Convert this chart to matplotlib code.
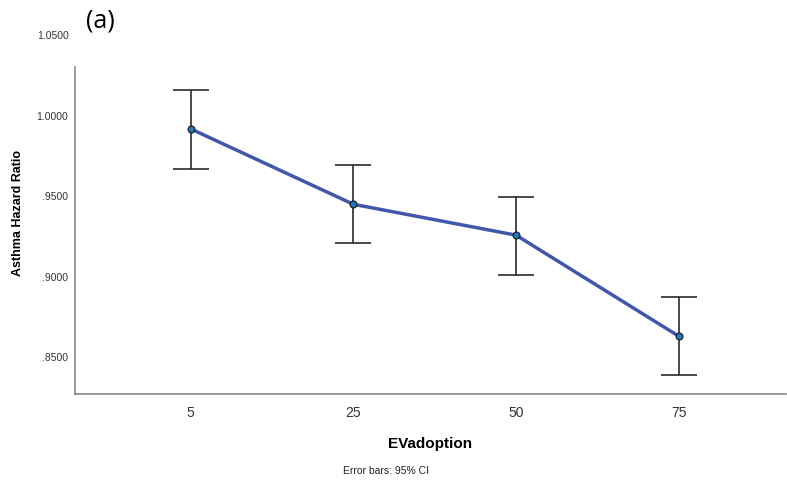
import matplotlib
matplotlib.use("Agg")
import matplotlib.pyplot as plt

categories = ["5", "25", "50", "75"]
means = [0.9913, 0.9444, 0.9252, 0.8624]
lower = [0.9665, 0.9205, 0.9006, 0.8382]
upper = [1.0155, 0.9686, 0.9488, 0.8866]
yticks = [0.85, 0.90, 0.95, 1.00]
ytick_labels = [".8500", ".9000", ".9500", "1.0000"]

plt.rcParams['font.family'] = ['Liberation Sans', 'DejaVu Sans']

fig = plt.figure(figsize=(7.87, 4.81), dpi=100)
ax = fig.add_axes([75/787, 1-395/481, (786-75)/787, (395-68)/481])

x = list(range(len(categories)))
yerr = [[m - l for m, l in zip(means, lower)], [u - m for m, u in zip(means, upper)]]
ax.errorbar(x, means, yerr=yerr, fmt='none', ecolor='#2b2b2b', elinewidth=1.2,
            capsize=13, capthick=1.2, zorder=2)
ax.plot(x, means, color='#4257AA', lw=2.5, zorder=3)
ax.plot(x, means, 'o', ms=5, mfc='#1E78BE', mec='#1a1a1a', mew=0.8, zorder=4)

ax.set_xlim(-0.712, 3.66)
ax.set_ylim(0.8264, 1.0298)
ax.set_xticks(x)
ax.set_xticklabels(categories, fontsize=10, color='#333333')
ax.set_yticks(yticks)
ax.set_yticklabels(ytick_labels, fontsize=7.5, color='#333333')
ax.tick_params(axis='both', length=0)
ax.tick_params(axis='x', pad=8)
ax.tick_params(axis='y', pad=5)

for s in ['top', 'right']:
    ax.spines[s].set_visible(False)
for s in ['left', 'bottom']:
    ax.spines[s].set_color('#888888')
    ax.spines[s].set_linewidth(1.2)

ax.set_xlabel("EVadoption", fontsize=11, fontweight='bold', labelpad=12)
fig.text(18/787, 1-213/481, "Asthma Hazard Ratio", rotation=90, fontsize=9,
         fontweight='bold', ha='center', va='center')
fig.text(69/787, 1-36/481, "1.0500", fontsize=7.5, color='#333333', ha='right', va='center')
fig.text(386/787, 1-471/481, "Error bars: 95% CI", fontsize=7.5, color='#222222',
         ha='center', va='center')
fig.text(86/787, 1-21/481, "(a)", fontsize=18, ha='left', va='center', family=['Open Sans', 'DejaVu Sans'])

fig.savefig("out.png", dpi=100)
